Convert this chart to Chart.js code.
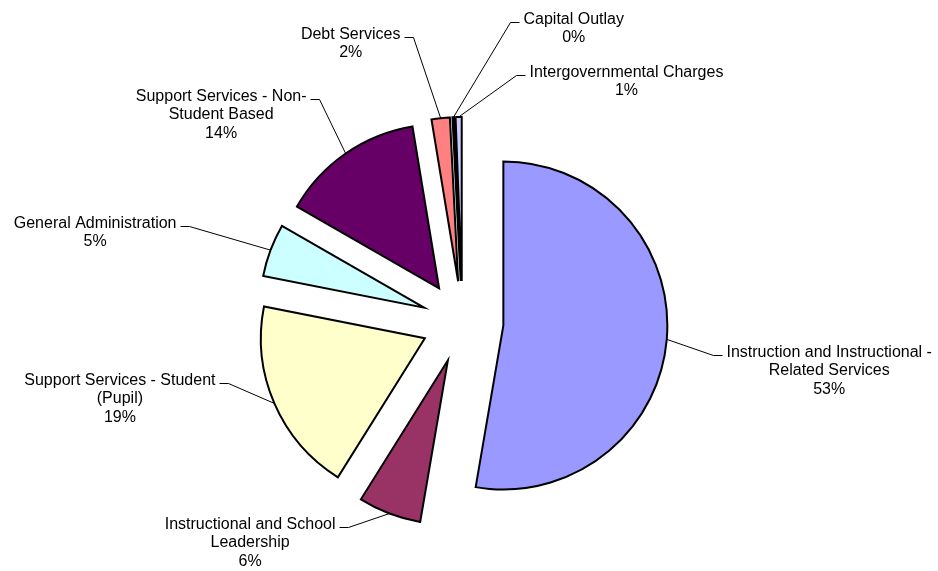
<!DOCTYPE html>
<html>
<head>
<meta charset="utf-8">
<script src="https://cdn.jsdelivr.net/npm/chart.js@4/dist/chart.umd.min.js"></script>
<style>
  body { margin: 0; background: #fff; }
</style>
</head>
<body>
<canvas id="chart" width="938" height="571"></canvas>
<script>
// categories (wrapped the way the labels are shown)
const categories = [
    ['Instruction and Instructional -', 'Related Services'],
    ['Instructional and School', 'Leadership'],
    ['Support Services - Student', '(Pupil)'],
    ['General Administration'],
    ['Support Services - Non-', 'Student Based'],
    ['Debt Services'],
    ['Capital Outlay'],
    ['Intergovernmental Charges']
];

// share of spending, percent
const shares = [52.7, 6.2, 19.2, 5.2, 14.1, 1.8, 0.2, 0.6];

const sliceColors = ['#9999FF', '#993366', '#FFFFCC', '#CCFFFF', '#660066', '#FF8080', '#0066CC', '#CCCCFF'];

// leader line elbow, relative to slice's outer midpoint, and which side the text sits
const labelLayout = [
    { dx: 46, dy: 16, side: 1 },
    { dx: -41, dy: 13, side: -1 },
    { dx: -46, dy: -20, side: -1 },
    { dx: -82, dy: -24, side: -1 },
    { dx: -27, dy: -55, side: -1 },
    { dx: -28, dy: -81, side: -1 },
    { dx: 57, dy: -95, side: 1 },
    { dx: 57, dy: -42, side: 1 }
];

const EXPLODE = 41;

// push every slice out along its bisector
const explodePlugin = {
    id: 'explode',
    beforeDatasetDraw(chart, args) {
        const ctx = chart.ctx;
        args.meta.data.forEach(arc => {
            const mid = (arc.startAngle + arc.endAngle) / 2;
            ctx.save();
            ctx.translate(Math.cos(mid) * EXPLODE, Math.sin(mid) * EXPLODE);
            arc.draw(ctx, chart.chartArea);
            ctx.restore();
        });
        return false; // skip default drawing
    }
};

const snap = v => Math.round(v) + 0.5;

const labelPlugin = {
    id: 'pieLabels',
    afterDatasetsDraw(chart) {
        const ctx = chart.ctx;
        const meta = chart.getDatasetMeta(0);
        const total = shares.reduce((a, b) => a + b, 0);
        ctx.save();
        ctx.font = '16px "Liberation Sans", Arial, sans-serif';
        ctx.fillStyle = '#000';
        ctx.strokeStyle = '#000';
        ctx.lineWidth = 1;
        ctx.textBaseline = 'middle';
        ctx.textAlign = 'center';
        meta.data.forEach((arc, i) => {
            const mid = (arc.startAngle + arc.endAngle) / 2;
            const r = arc.outerRadius + EXPLODE;
            const ax = arc.x + Math.cos(mid) * r;
            const ay = arc.y + Math.sin(mid) * r;
            const lay = labelLayout[i];
            const ex = snap(ax + lay.dx), ey = snap(ay + lay.dy);
            const tx = ex + lay.side * 9;

            ctx.beginPath();
            ctx.moveTo(ax, ay);
            ctx.lineTo(ex, ey);
            ctx.lineTo(tx, ey);
            ctx.stroke();

            const lines = categories[i].concat([Math.round(shares[i] / total * 100) + '%']);
            const w0 = ctx.measureText(lines[0]).width;
            const cx = tx + lay.side * (4 + w0 / 2);
            let y = ey - 3;
            lines.forEach(line => {
                ctx.fillText(line, cx, y);
                y += 18.5;
            });
        });
        ctx.restore();
    }
};

new Chart(document.getElementById('chart'), {
    type: 'pie',
    data: {
        labels: categories,
        datasets: [{
            data: shares,
            backgroundColor: sliceColors,
            borderColor: '#000',
            borderWidth: 2,
            borderJoinStyle: 'miter'
        }]
    },
    options: {
        responsive: false,
        animation: false,
        radius: 164,
        layout: { padding: { left: 0, right: 13, top: 73, bottom: 0 } },
        plugins: {
            legend: { display: false },
            tooltip: { enabled: false }
        }
    },
    plugins: [explodePlugin, labelPlugin]
});
</script>
</body>
</html>
